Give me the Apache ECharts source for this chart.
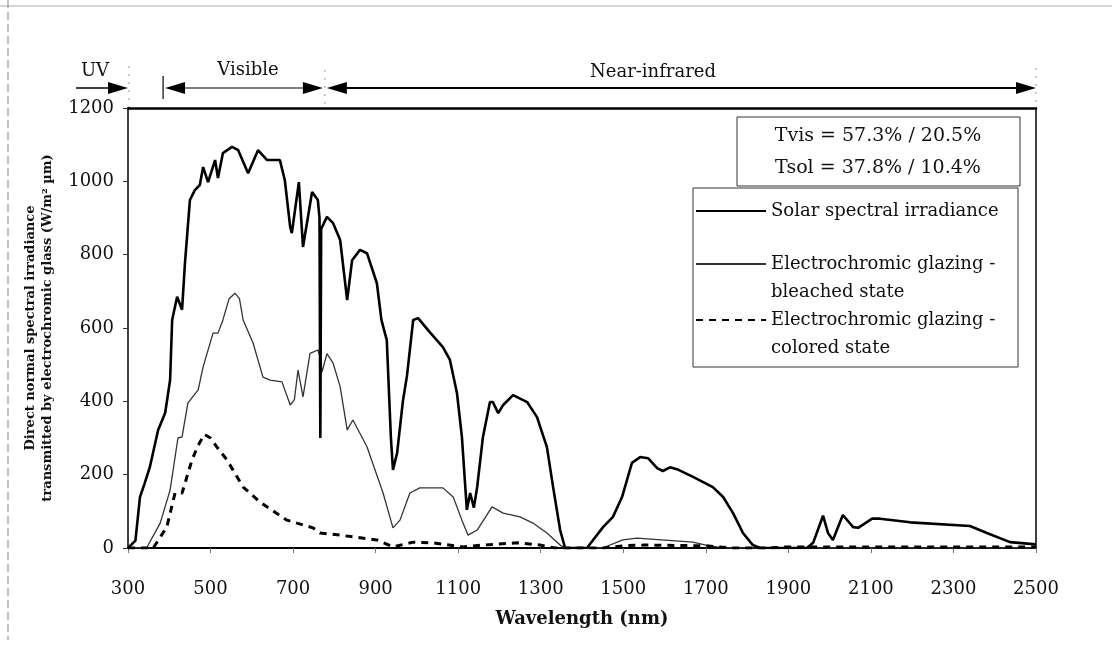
<!DOCTYPE html>
<html>
<head>
<meta charset="utf-8">
<script src="https://cdn.jsdelivr.net/npm/echarts@6/dist/echarts.min.js"></script>
<style>html,body{margin:0;background:#fff}#chart{width:1112px;height:654px}</style>
</head>
<body>
<div id="chart"></div>
<script>
// wavelength (nm) / irradiance pairs
var solarWl  = [300,318,329,340,353,373,390,402,407,419,431,438,450,462,474,482,494,511,518,530,552,567,591,615,637,668,680,693,697,714,724,746,760,764,766,768,782,797,814,831,843,862,879,903,914,927,937,942,952,966,976,991,1003,1030,1063,1080,1097,1109,1121,1129,1138,1146,1160,1177,1184,1197,1209,1233,1267,1291,1315,1330,1347,1359,1388,1412,1451,1475,1497,1521,1541,1560,1582,1596,1613,1630,1669,1717,1742,1766,1790,1814,1831,1945,1960,1984,1996,2008,2032,2057,2069,2103,2122,2195,2340,2381,2437,2500];
var solarVal = [0,20,139,175,221,322,368,458,622,685,650,777,949,976,990,1039,998,1058,1009,1077,1094,1085,1022,1085,1058,1058,1003,875,859,998,821,971,949,900,300,870,903,886,840,676,785,813,804,722,622,567,300,213,259,400,470,622,627,590,548,513,423,303,104,150,110,166,303,398,398,368,390,417,398,357,275,166,49,0,0,0,57,85,139,232,248,245,218,210,220,215,194,166,139,95,41,8,0,0,14,88,41,22,90,57,55,80,80,70,60,41,16,10];

var bleachedWl  = [300,340,346,378,402,421,431,445,470,482,506,518,530,545,559,570,579,603,627,644,673,693,703,712,724,741,760,766,770,782,797,814,831,845,879,918,942,959,983,1007,1063,1088,1109,1124,1146,1182,1209,1250,1281,1315,1347,1359,1450,1499,1533,1669,1710,1750,2500];
var bleachedVal = [0,0,2,68,158,300,303,395,431,494,586,586,622,680,695,680,622,559,466,458,453,390,404,485,412,531,540,520,480,530,504,440,322,349,276,150,55,76,150,164,164,139,76,35,49,112,95,85,68,41,8,0,0,22,27,16,5,0,0];

var coloredWl  = [300,361,394,414,431,455,470,485,500,515,540,579,620,685,748,765,814,903,942,991,1040,1112,1160,1243,1298,1335,1450,1500,1550,1700,1760,1850,1900,2500];
var coloredVal = [0,0,57,150,150,240,280,310,300,276,240,166,125,76,55,41,35,22,3,16,14,3,8,14,8,0,0,6,8,6,0,0,3,3];

var seriesNames = ['Solar spectral irradiance', 'Electrochromic glazing - bleached state', 'Electrochromic glazing - colored state'];
var boxLines = ['Tvis = 57.3% / 20.5%', 'Tsol = 37.8% / 10.4%'];
var regionNames = ['UV', 'Visible', 'Near-infrared'];
var regionEdges = [300, 385, 777, 2500];

function pairs(wl, val) {
	return wl.map(function (w, i) { return [w, val[i]]; });
}

var serif = '"DejaVu Serif", "Liberation Serif", serif';
var ink = '#111';

var myChart = echarts.init(document.getElementById('chart'));

// one legend per entry so each can sit where the original put it;
// two-line entries get a blank first line so the icon lines up with the first text line
function legendFor(i, top, twoLines) {
	return {
		data: [seriesNames[i]],
		orient: 'vertical',
		left: 695,
		top: top,
		padding: 0,
		itemWidth: 70,
		itemHeight: 20,
		selectedMode: false,
		itemStyle: { opacity: 0 },
		formatter: function (n) { return twoLines ? '\n' + n.replace(' - ', ' -\n') : n; },
		textStyle: { fontFamily: serif, fontSize: 18, color: ink, lineHeight: 28 }
	};
}

var option = {
	animation: false,
	backgroundColor: '#fff',
	grid: { left: 128, top: 108, width: 908, height: 440 },
	legend: [legendFor(0, 197, false), legendFor(1, 222, true), legendFor(2, 278, true)],
	xAxis: [{
		type: 'value', min: 300, max: 2500, interval: 200,
		axisLine: { show: true, onZero: false, lineStyle: { color: '#000', width: 2 } },
		axisTick: { show: true, length: 5, lineStyle: { color: '#777' } },
		axisLabel: { margin: 32, fontFamily: serif, fontSize: 18, color: ink, formatter: function (v) { return String(v); } },
		splitLine: { show: false },
		name: 'Wavelength (nm)', nameLocation: 'middle', nameGap: 62,
		nameTextStyle: { fontFamily: serif, fontSize: 18, fontWeight: 'bold', color: ink }
	}, {
		type: 'value', position: 'top', min: 300, max: 2500,
		axisLine: { show: true, onZero: false, lineStyle: { color: '#000', width: 2.5 } },
		axisTick: { show: false }, axisLabel: { show: false }, splitLine: { show: false }
	}],
	yAxis: [{
		type: 'value', min: 0, max: 1200, interval: 200,
		axisLine: { show: true, lineStyle: { color: '#000', width: 1.5 } },
		axisTick: { show: true, length: 5, lineStyle: { color: '#333' } },
		axisLabel: { margin: 14, fontFamily: serif, fontSize: 18, color: ink, formatter: function (v) { return String(v); } },
		splitLine: { show: false },
		name: 'Direct normal spectral irradiance\ntransmitted by electrochromic glass (W/m\u00b2 \u00b5m)',
		nameLocation: 'middle', nameGap: 72, nameRotate: 90,
		nameTextStyle: { fontFamily: serif, fontSize: 13, fontWeight: 'bold', color: ink, lineHeight: 17 }
	}, {
		type: 'value', position: 'right', min: 0, max: 1200,
		axisLine: { show: true, lineStyle: { color: '#000', width: 1.5 } },
		axisTick: { show: false }, axisLabel: { show: false }, splitLine: { show: false }
	}],
	series: [{
		name: seriesNames[0], type: 'line', symbol: 'none', z: 5,
		data: pairs(solarWl, solarVal),
		itemStyle: { color: '#000' },
		lineStyle: { color: '#000', width: 2.6 }
	}, {
		name: seriesNames[1], type: 'line', symbol: 'none', z: 4,
		data: pairs(bleachedWl, bleachedVal),
		itemStyle: { color: '#333' },
		lineStyle: { color: '#333', width: 1.3 }
	}, {
		name: seriesNames[2], type: 'line', symbol: 'none', z: 4,
		data: pairs(coloredWl, coloredVal),
		itemStyle: { color: '#000' },
		lineStyle: { color: '#000', width: 3, type: [7, 6] }
	}]
};
myChart.setOption(option);

// region arrows above the plot and the two boxes
function px(nm) { return myChart.convertToPixel({ xAxisIndex: 0 }, nm); }
function headR(x, y) { return { type: 'polygon', shape: { points: [[x, y], [x - 20, y - 6], [x - 20, y + 6]] }, style: { fill: '#000' } }; }
function headL(x, y) { return { type: 'polygon', shape: { points: [[x, y], [x + 20, y - 6], [x + 20, y + 6]] }, style: { fill: '#000' } }; }
function hline(x1, x2, y, w, c) { return { type: 'line', shape: { x1: x1, y1: y, x2: x2, y2: y }, style: { stroke: c || '#000', lineWidth: w } }; }
function vdash(x, y1, y2) { return { type: 'line', shape: { x1: x, y1: y1, x2: x, y2: y2 }, style: { stroke: '#999', lineWidth: 1, lineDash: [2, 6] } }; }
function label(t, x, y, size) {
	return { type: 'text', x: x, y: y, style: { text: t, fill: ink, font: (size || 18) + 'px ' + serif, align: 'center', verticalAlign: 'middle' } };
}

var ay = 88;
var e0 = px(regionEdges[0]), e1 = px(regionEdges[1]), e2 = px(regionEdges[2]), e3 = px(regionEdges[3]);
var g = [
	hline(0, 1112, 6, 1, '#aaa'),
	{ type: 'line', shape: { x1: 8, y1: 0, x2: 8, y2: 640 }, style: { stroke: '#999', lineWidth: 1.2, lineDash: [8, 4] } },
	vdash(e0 + 1, 66, 108), vdash(e2, 70, 108), vdash(e3, 68, 108),
	hline(76, e0 - 18, ay, 1.5), headR(e0, ay),
	{ type: 'line', shape: { x1: e1, y1: ay - 12, x2: e1, y2: ay + 11 }, style: { stroke: '#000', lineWidth: 1.2 } },
	headL(e1 + 2, ay), hline(e1 + 22, e2 - 22, ay, 1.5, '#555'), headR(e2 - 2, ay),
	headL(e2 + 2, ay), hline(e2 + 22, e3 - 18, ay, 2), headR(e3, ay),
	label(regionNames[0], 95, 71), label(regionNames[1], 248, 70), label(regionNames[2], 653, 72),
	{ type: 'rect', shape: { x: 737, y: 117, width: 283, height: 69 }, style: { fill: '#fff', stroke: '#333', lineWidth: 1 } },
	label(boxLines[0], 878, 136, 19), label(boxLines[1], 878, 168, 19),
	{ type: 'rect', shape: { x: 693, y: 188, width: 325, height: 179 }, style: { fill: '#fff', stroke: '#333', lineWidth: 1 } }
];
myChart.setOption({ graphic: g });
</script>
</body>
</html>
